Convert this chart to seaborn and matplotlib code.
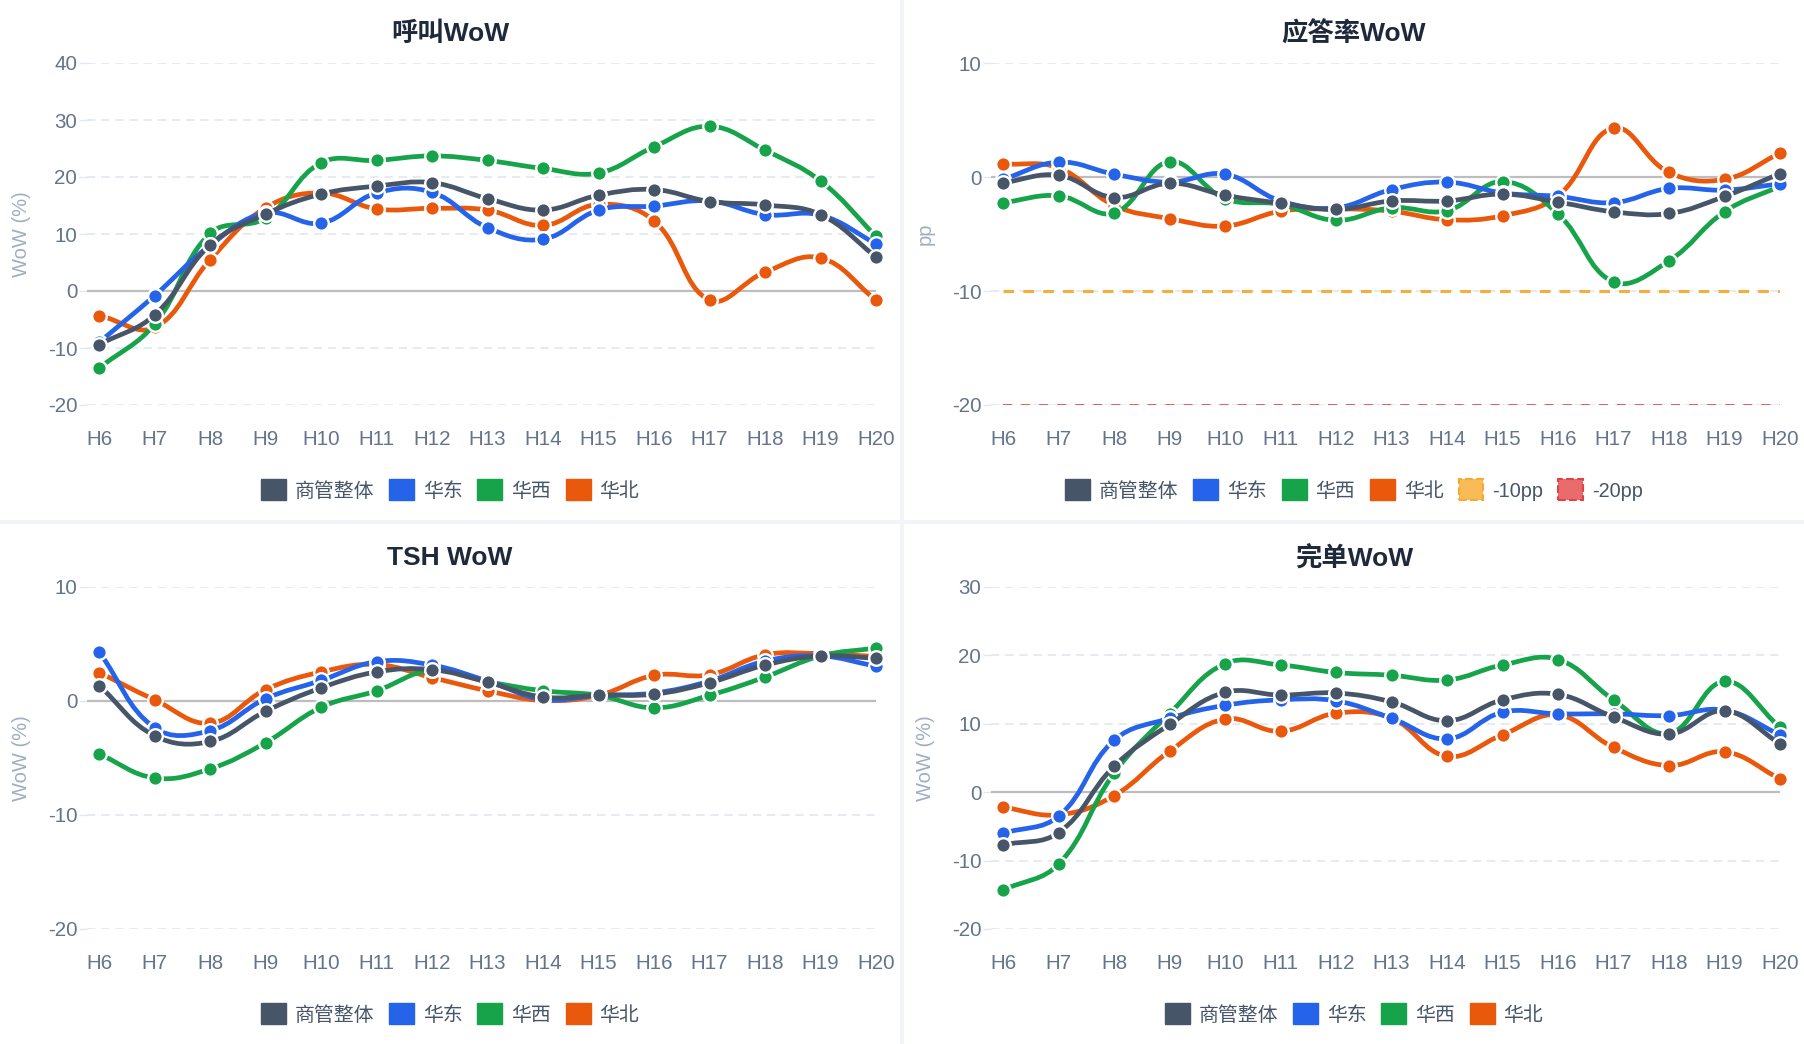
import numpy as np
import matplotlib
matplotlib.use('Agg')
import matplotlib.pyplot as plt
import seaborn as sns
import pandas as pd
from matplotlib.path import Path
from matplotlib.patches import PathPatch, Patch

hours = ['H6', 'H7', 'H8', 'H9', 'H10', 'H11', 'H12', 'H13', 'H14', 'H15', 'H16', 'H17', 'H18', 'H19', 'H20']
regions = ['商管整体', '华东', '华西', '华北']
colors = ['#475569', '#2563eb', '#16a34a', '#ea580c']

# 呼叫WoW (%)
calls_total = [-9.4, -4.2, 8.1, 13.5, 17.0, 18.4, 19.0, 16.2, 14.2, 16.8, 17.8, 15.7, 15.1, 13.4, 6.0]
calls_east = [-9.0, -0.8, 8.0, 13.7, 11.9, 17.2, 17.3, 11.1, 9.1, 14.2, 14.9, 15.8, 13.4, 13.3, 8.3]
calls_west = [-13.5, -5.8, 10.1, 12.8, 22.5, 22.9, 23.7, 22.9, 21.5, 20.7, 25.3, 28.9, 24.7, 19.3, 9.6]
calls_north = [-4.3, -6.4, 5.5, 14.6, 17.2, 14.4, 14.5, 14.2, 11.5, 15.2, 12.3, -1.6, 3.3, 5.8, -1.6]

# 应答率WoW (pp)
answer_total = [-0.5, 0.15, -1.8, -0.55, -1.6, -2.3, -2.85, -2.1, -2.1, -1.5, -2.2, -3.05, -3.2, -1.7, 0.3]
answer_east = [-0.2, 1.3, 0.25, -0.45, 0.25, -2.1, -2.7, -1.1, -0.45, -1.4, -1.7, -2.25, -1.0, -1.15, -0.6]
answer_west = [-2.25, -1.65, -3.15, 1.35, -1.9, -2.4, -3.8, -2.7, -2.95, -0.4, -3.25, -9.2, -7.35, -3.05, -0.8]
answer_north = [1.15, 0.8, -2.5, -3.65, -4.3, -3.0, -2.8, -3.0, -3.75, -3.4, -1.65, 4.3, 0.4, -0.2, 2.1]
answer_thresholds = [-10, -20]
threshold_labels = ['-10pp', '-20pp']

# TSH WoW (%)
tsh_total = [1.35, -3.05, -3.55, -0.9, 1.15, 2.55, 2.75, 1.65, 0.35, 0.5, 0.6, 1.6, 3.15, 3.95, 3.75]
tsh_east = [4.3, -2.35, -2.6, 0.2, 1.8, 3.45, 3.15, 1.75, 0.15, 0.5, 0.7, 1.75, 3.5, 3.95, 3.05]
tsh_west = [-4.65, -6.75, -5.95, -3.65, -0.55, 0.9, 2.7, 1.7, 0.9, 0.5, -0.6, 0.5, 2.1, 3.95, 4.65]
tsh_north = [2.5, 0.1, -1.95, 1.0, 2.55, 3.2, 2.05, 0.9, 0.05, 0.5, 2.25, 2.3, 4.05, 4.15, 3.9]

# 完单WoW (%)
orders_total = [-7.7, -5.9, 3.8, 9.9, 14.6, 14.2, 14.5, 13.2, 10.45, 13.5, 14.3, 11.0, 8.5, 11.9, 7.1]
orders_east = [-6.0, -3.5, 7.6, 10.8, 12.7, 13.5, 13.35, 10.8, 7.8, 11.7, 11.45, 11.45, 11.2, 12.0, 8.4]
orders_west = [-14.3, -10.5, 2.8, 11.5, 18.8, 18.6, 17.5, 17.1, 16.4, 18.6, 19.4, 13.5, 8.6, 16.2, 9.5]
orders_north = [-2.2, -3.3, -0.5, 6.0, 10.7, 8.9, 11.55, 10.8, 5.25, 8.4, 11.3, 6.55, 3.9, 5.9, 1.95]

W, H = 1804, 1044
sns.set_theme(style='white')
plt.rcParams['font.family'] = ['Liberation Sans', 'Noto Sans CJK SC', 'DejaVu Sans']

fig = plt.figure(figsize=(W / 100, H / 100), dpi=100)
fig.patch.set_facecolor('#f1f5f9')


def smooth_path(ax, xs, ys, tension=0.4):
    # bezier spline through the points, control points computed in pixel space
    pts = ax.transData.transform(np.column_stack([xs, ys]))
    n = len(pts)
    cps = []
    for i in range(n):
        prev, cur, nxt = pts[max(i - 1, 0)], pts[i], pts[min(i + 1, n - 1)]
        d01 = np.hypot(*(cur - prev))
        d12 = np.hypot(*(nxt - cur))
        tot = d01 + d12
        fa = tension * d01 / tot if tot else 0
        fb = tension * d12 / tot if tot else 0
        cps.append((cur - fa * (nxt - prev), cur + fb * (nxt - prev)))
    verts = [pts[0]]
    codes = [Path.MOVETO]
    for i in range(n - 1):
        verts += [cps[i][1], cps[i + 1][0], pts[i + 1]]
        codes += [Path.CURVE4] * 3
    verts = ax.transData.inverted().transform(np.array(verts))
    return Path(verts, codes)


def panel(px, py, title, series, ylim, yticks, ylabel, thresholds=None):
    # px, py: top-left pixel of the panel card
    fig.add_artist(plt.Rectangle((px / W, 1 - (py + 520) / H), 900 / W, 520 / H,
                                 transform=fig.transFigure, facecolor='white',
                                 edgecolor='none', zorder=0))
    left, right = px + 87, px + 876
    top, bottom = py + 63, py + 405
    ax = fig.add_axes([left / W, 1 - bottom / H, (right - left) / W, (bottom - top) / H])
    ax.set_facecolor('none')
    ax.set_xlim(-0.22, 14)
    ax.set_ylim(*ylim)
    x = np.arange(len(hours))

    for yt in yticks:
        if yt == 0:
            ax.axhline(0, color='#bdbdbd', lw=1.6, zorder=1)
        else:
            ax.axhline(yt, color='#e2e8f0', lw=1.2, ls=(0, (5, 3.5)), zorder=1)

    if thresholds is not None:
        ax.plot(x, [thresholds[0]] * len(x), color='#f6ad3c', lw=2.2, ls=(0, (3.5, 3)), zorder=2)
        ax.plot(x, [thresholds[1]] * len(x), color='#e05252', lw=1.3, ls=(0, (5, 5)), zorder=2)

    for k, (vals, c) in enumerate(zip(series, colors)):
        z = 10 - 2 * k
        ax.add_patch(PathPatch(smooth_path(ax, x, vals), facecolor='none', edgecolor=c,
                               lw=3.4, zorder=z, clip_on=False, capstyle='round',
                               joinstyle='round'))
        df = pd.DataFrame({'x': x, 'y': vals})
        sns.scatterplot(data=df, x='x', y='y', ax=ax, color=c, s=110, edgecolor='white',
                        linewidth=1.7, zorder=z + 0.5, clip_on=False, legend=False)

    ax.set_xticks(x)
    ax.set_xticklabels(hours)
    ax.set_yticks(yticks)
    ax.set_yticklabels([str(v) for v in yticks])
    ax.tick_params(axis='x', length=0, pad=18, labelsize=14.8, labelcolor='#64748b')
    ax.tick_params(axis='y', length=6, width=1, color='#e2e8f0', pad=1,
                   labelsize=14.8, labelcolor='#64748b', left=True)
    ax.set_xlabel('')
    ax.set_ylabel(ylabel, color='#a0aec0', fontsize=14.5)
    ax.yaxis.set_label_coords(-(left - px - 31) / (right - left), 0.5)
    for sp in ax.spines.values():
        sp.set_visible(False)
    ax.grid(False)

    cx = (px + 450) / W
    fig.text(cx, 1 - (py + 34) / H, title, ha='center', va='center', fontsize=19,
             fontweight='bold', color='#1e293b')

    handles = [Patch(facecolor=c, edgecolor=c, label=r) for r, c in zip(regions, colors)]
    if thresholds is not None:
        handles.append(Patch(facecolor='#f8bb55', edgecolor='#f6a935', ls='--', lw=1.5,
                             label=threshold_labels[0]))
        handles.append(Patch(facecolor='#e96b6b', edgecolor='#e0424a', ls='--', lw=1.5,
                             label=threshold_labels[1]))
    fig.legend(handles=handles, loc='center', bbox_to_anchor=(cx, 1 - (py + 490) / H),
               ncol=len(handles), frameon=False, fontsize=14.3, handlelength=1.25,
               handleheight=1.25, handletextpad=0.45, columnspacing=0.75,
               labelcolor='#475569', borderaxespad=0)
    return ax


panel(0, 0, '呼叫WoW', [calls_total, calls_east, calls_west, calls_north],
      (-20, 40), [-20, -10, 0, 10, 20, 30, 40], 'WoW (%)')
panel(904, 0, '应答率WoW', [answer_total, answer_east, answer_west, answer_north],
      (-20, 10), [-20, -10, 0, 10], 'pp', thresholds=answer_thresholds)
panel(0, 524, 'TSH WoW', [tsh_total, tsh_east, tsh_west, tsh_north],
      (-20, 10), [-20, -10, 0, 10], 'WoW (%)')
panel(904, 524, '完单WoW', [orders_total, orders_east, orders_west, orders_north],
      (-20, 30), [-20, -10, 0, 10, 20, 30], 'WoW (%)')

fig.savefig('out.png', dpi=100, facecolor=fig.get_facecolor())
